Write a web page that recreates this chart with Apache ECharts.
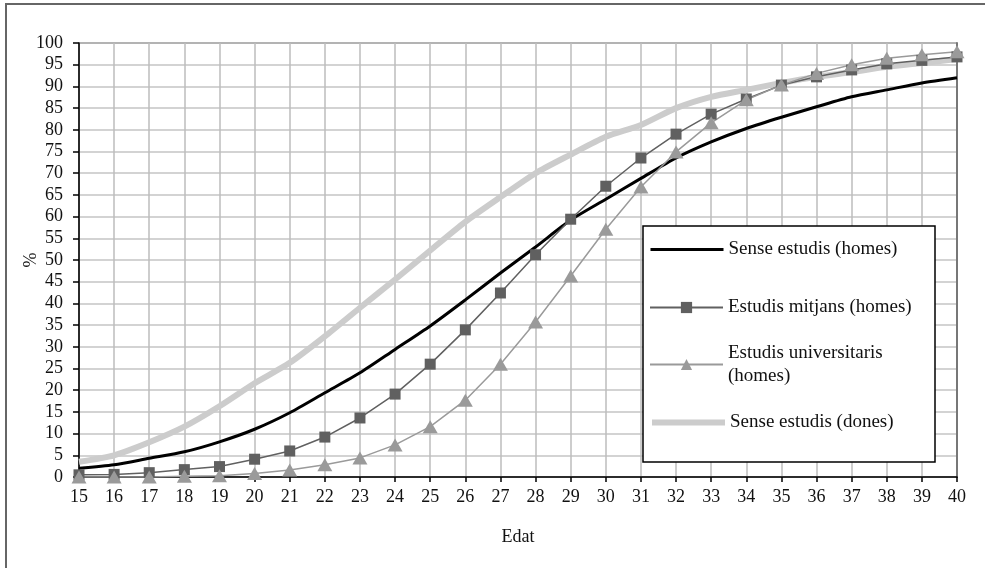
<!DOCTYPE html>
<html>
<head>
<meta charset="utf-8">
<script src="https://cdn.jsdelivr.net/npm/echarts@6/dist/echarts.min.js"></script>
<style>
html,body{margin:0;padding:0;background:#fff;}
#c{width:985px;height:568px;}
</style>
</head>
<body>
<div id="c"></div>
<script>
var ages = ['15','16','17','18','19','20','21','22','23','24','25','26','27','28','29','30','31','32','33','34','35','36','37','38','39','40'];
var yTicks = [0,5,10,15,20,25,30,35,40,45,50,55,60,65,70,75,80,85,90,95,100];
var senseHomes = [2,2.8,4.3,5.8,8.1,11,14.8,19.4,24,29.4,34.8,40.8,47,53,59.2,64,68.8,73.5,77.2,80.3,82.9,85.3,87.6,89.2,90.8,92];
var mitjansHomes = [0.5,0.6,1.0,1.7,2.4,4.1,6.0,9.2,13.6,19.1,26,33.9,42.4,51.2,59.4,67,73.5,79,83.6,87.1,90.3,92.2,93.8,95.2,96,96.8];
var univHomes = [0,0,0,0.2,0.3,0.8,1.6,2.8,4.4,7.4,11.6,17.7,26,35.7,46.3,57.1,66.8,74.9,81.6,86.9,90.3,93,95,96.5,97.3,98];
var senseDones = [3.5,5,8,11.6,16.3,21.6,26.3,32.4,39,45.5,52.2,58.8,64.5,70,74.3,78.4,81.1,85,87.6,89.2,90.8,92.2,93.3,94.5,95.4,96.3];
var names = ['Sense estudis (homes)','Estudis mitjans (homes)','Estudis universitaris\n(homes)','Sense estudis (dones)'];

var FONT = 'Liberation Serif';
var chart = echarts.init(document.getElementById('c'), null, {renderer:'canvas'});

function legendAt(name, top, extraText, lineStyle) {
  var l = {
    data: [name],
    orient: 'vertical',
    left: 649,
    top: top,
    itemWidth: 73,
    itemHeight: 14,
    itemGap: 0,
    padding: 0,
    selectedMode: false,
    z: 10,
    textStyle: Object.assign({fontFamily: FONT, fontSize: 19, color: '#111', lineHeight: 23}, extraText || {})
  };
  if (lineStyle) {
    l.itemStyle = {opacity: 0, borderWidth: 0};
    l.lineStyle = lineStyle;
  }
  return l;
}

var option = {
  animation: false,
  backgroundColor: '#fff',
  grid: {left: 79, right: 28, top: 43, bottom: 91, show: true, borderColor: '#000', borderWidth: 1, containLabel: false},
  xAxis: {
    type: 'category',
    data: ages,
    boundaryGap: false,
    name: 'Edat',
    nameLocation: 'middle',
    nameGap: 51,
    nameMoveOverlap: false,
    nameTextStyle: {fontFamily: FONT, fontSize: 18, color: '#111'},
    axisLine: {lineStyle: {color: '#000', width: 1.5}},
    axisTick: {show: true, length: 5, inside: false, lineStyle: {color: '#000', width: 1.5}},
    axisLabel: {fontFamily: FONT, fontSize: 18, color: '#111', margin: 11},
    splitLine: {show: true, lineStyle: {color: '#bdbdbd', width: 1.5}}
  },
  yAxis: [{
    type: 'value',
    min: 0, max: 100, interval: 5,
    name: '%',
    nameLocation: 'middle',
    nameGap: 39,
    nameMoveOverlap: false,
    nameRotate: 90,
    nameTextStyle: {fontFamily: FONT, fontSize: 18, color: '#111'},
    axisLine: {show: true, lineStyle: {color: '#000', width: 1.5}},
    axisTick: {show: true, length: 6, lineStyle: {color: '#000', width: 1.5}},
    axisLabel: {fontFamily: FONT, fontSize: 18, color: '#111', margin: 16},
    splitLine: {show: true, lineStyle: {color: '#c4c4c4', width: 1.5}}
  }, {
    type: 'value',
    position: 'right',
    min: 0, max: 100, interval: 5,
    axisLine: {show: true, lineStyle: {color: '#777', width: 2}},
    axisTick: {show: false},
    axisLabel: {show: false},
    splitLine: {show: false}
  }],
  legend: [
    legendAt(names[0], 238, null, {color: '#000', width: 3}),
    legendAt(names[1], 296),
    legendAt(names[2], 330, {padding: [23, 0, 0, 0]}),
    legendAt(names[3], 411, null, {color: '#cccccc', width: 6})
  ],
  graphic: [
    {type: 'rect', shape: {x: 6, y: 4, width: 1000, height: 600}, style: {fill: 'none', stroke: '#666', lineWidth: 2}, silent: true},
    {type: 'rect', shape: {x: 643, y: 226, width: 292, height: 236}, style: {fill: '#fff', stroke: '#000', lineWidth: 1.5}, z: 5, silent: true}
  ],
  series: [
    {name: names[3], type: 'line', data: senseDones, smooth: 0.25, showSymbol: false, symbol: 'none',
     lineStyle: {color: '#cccccc', width: 6}, itemStyle: {color: '#cccccc'}, z: 2},
    {name: names[0], type: 'line', data: senseHomes, smooth: 0.25, showSymbol: false, symbol: 'none',
     lineStyle: {color: '#000', width: 3}, itemStyle: {color: '#000'}, z: 3},
    {name: names[1], type: 'line', data: mitjansHomes, symbol: 'rect', symbolSize: 11,
     lineStyle: {color: '#606060', width: 1.5}, itemStyle: {color: '#606060'}, z: 4},
    {name: names[2], type: 'line', data: univHomes, symbol: 'triangle', symbolSize: [15, 13],
     lineStyle: {color: '#9a9a9a', width: 1.5}, itemStyle: {color: '#9a9a9a'}, z: 4}
  ]
};
chart.setOption(option);
</script>
</body>
</html>
